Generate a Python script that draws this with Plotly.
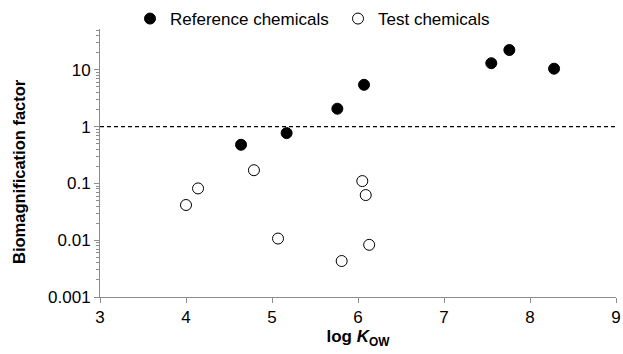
import plotly.graph_objects as go

ref_x = [4.64, 5.17, 5.76, 6.07, 7.55, 7.76, 8.28]
ref_y = [0.48, 0.77, 2.07, 5.46, 13.1, 22.4, 10.5]
test_x = [4.00, 4.14, 4.79, 5.07, 5.81, 6.05, 6.09, 6.13]
test_y = [0.0417, 0.0817, 0.171, 0.0107, 0.0043, 0.110, 0.0624, 0.0083]
x_ticks = [3, 4, 5, 6, 7, 8, 9]
y_ticks = [0.001, 0.01, 0.1, 1, 10]
y_tick_labels = ["0.001", "0.01", "0.1", "1", "10"]

font = "Liberation Sans, Arial, sans-serif"
axis_col = "#8c8c8c"

fig = go.Figure()
fig.add_trace(go.Scatter(x=ref_x, y=ref_y, mode="markers", name="Reference chemicals",
                         marker=dict(symbol="circle", size=11, color="black",
                                     line=dict(color="black", width=1))))
fig.add_trace(go.Scatter(x=test_x, y=test_y, mode="markers", name="Test chemicals",
                         marker=dict(symbol="circle", size=11, color="white",
                                     line=dict(color="black", width=1))))
fig.add_shape(type="line", xref="paper", x0=0, x1=1, yref="y", y0=1, y1=1,
              line=dict(color="black", width=1.2, dash="4px,3px"))

fig.add_annotation(text="<b>Biomagnification factor</b>", xref="paper", yref="paper",
                   x=-81 / 516, y=(297 - 172) / 268, xanchor="center", yanchor="middle",
                   textangle=-90, showarrow=False, font=dict(size=16.5))

fig.update_layout(
    width=623, height=354,
    margin=dict(l=100, r=7, t=29, b=57, autoexpand=False),
    paper_bgcolor="white", plot_bgcolor="white",
    font=dict(family=font, size=17, color="black"),
    showlegend=True,
    legend=dict(orientation="h", xref="container", yref="container",
                x=130 / 623, y=1 - 19 / 354, xanchor="left", yanchor="middle",
                font=dict(size=17), itemwidth=30, tracegroupgap=0,
                entrywidth=163, entrywidthmode="pixels",
                bgcolor="rgba(0,0,0,0)"),
    xaxis=dict(range=[3, 9], tickvals=x_ticks, showline=True, linecolor=axis_col,
               linewidth=1, ticks="outside", tickcolor=axis_col, ticklen=5,
               showgrid=False, zeroline=False,
               title=dict(text="<b>log <i>K</i><sub>OW</sub></b>", font=dict(size=17),
                          standoff=1)),
    yaxis=dict(type="log", range=[-3, 1.72], tickvals=y_ticks, ticktext=y_tick_labels,
               showline=True, linecolor=axis_col, linewidth=1, ticks="outside",
               tickcolor=axis_col, ticklen=5, showgrid=False, zeroline=False,
               minor=dict(ticks="outside", ticklen=3, tickcolor=axis_col, dtick="D1",
                          showgrid=False)),
)

fig.write_html("out.html")
